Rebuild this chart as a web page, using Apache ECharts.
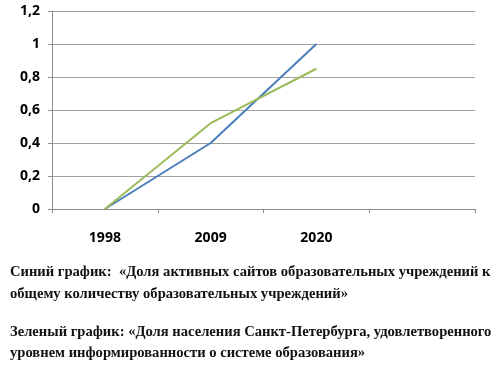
<!DOCTYPE html>
<html>
<head>
<meta charset="utf-8">
<script src="https://cdn.jsdelivr.net/npm/echarts@6/dist/echarts.min.js"></script>
<style>
  html, body { margin: 0; padding: 0; background: #fff; }
  #chart { width: 500px; height: 366px; }
</style>
</head>
<body>
<div id="chart"></div>
<script>
// Years on the category axis (the last slot is left empty)
const years = ['1998', '2009', '2020', ''];
// Share of active educational institution websites
const blueValues = [0, 0.4, 1.0, null];
// Share of St. Petersburg residents satisfied with information on the education system
const greenValues = [0, 0.52, 0.85, null];
// Y-axis range
const yMin = 0, yMax = 1.2, yStep = 0.2;

const captionLines = [
  'Синий график:  «Доля активных сайтов образовательных учреждений к',
  'общему количеству образовательных учреждений»',
  'Зеленый график: «Доля населения Санкт-Петербурга, удовлетворенного',
  'уровнем информированности о системе образования»'
];
const captionY = [265, 287, 325, 346];

const chart = echarts.init(document.getElementById('chart'), null, { renderer: 'canvas' });

const axisFont = { fontFamily: 'Open Sans', fontWeight: 'bold', fontSize: 14, color: '#000' };

chart.setOption({
  animation: false,
  grid: { left: 52, right: 25, top: 11, height: 198, containLabel: false },
  xAxis: {
    type: 'category',
    data: years,
    boundaryGap: true,
    axisLine: { lineStyle: { color: '#8c8c8c', width: 1 } },
    axisTick: { show: true, alignWithLabel: false, length: 4, lineStyle: { color: '#8c8c8c' } },
    axisLabel: Object.assign({ margin: 22 }, axisFont),
    splitLine: { show: false }
  },
  yAxis: {
    type: 'value',
    min: yMin, max: yMax, interval: yStep,
    axisLine: { show: true, lineStyle: { color: '#8c8c8c', width: 1 } },
    axisTick: { show: true, length: 4, lineStyle: { color: '#8c8c8c' } },
    axisLabel: Object.assign({
      margin: 12,
      formatter: v => String(Math.round(v * 10) / 10).replace('.', ',')
    }, axisFont),
    splitLine: { show: true, lineStyle: { color: '#a0a0a0', width: 1 } }
  },
  series: [
    {
      type: 'line', data: blueValues, symbol: 'none',
      lineStyle: { color: '#4a7ebb', width: 2 }
    },
    {
      type: 'line', data: greenValues, symbol: 'none',
      lineStyle: { color: '#9bbb59', width: 2 }
    }
  ],
  graphic: captionLines.map((t, i) => ({
    type: 'text',
    left: 10,
    top: captionY[i],
    style: {
      text: t,
      fontFamily: 'Liberation Serif',
      fontWeight: 'bold',
      fontSize: 14.6,
      fill: '#111'
    }
  }))
});
</script>
</body>
</html>
